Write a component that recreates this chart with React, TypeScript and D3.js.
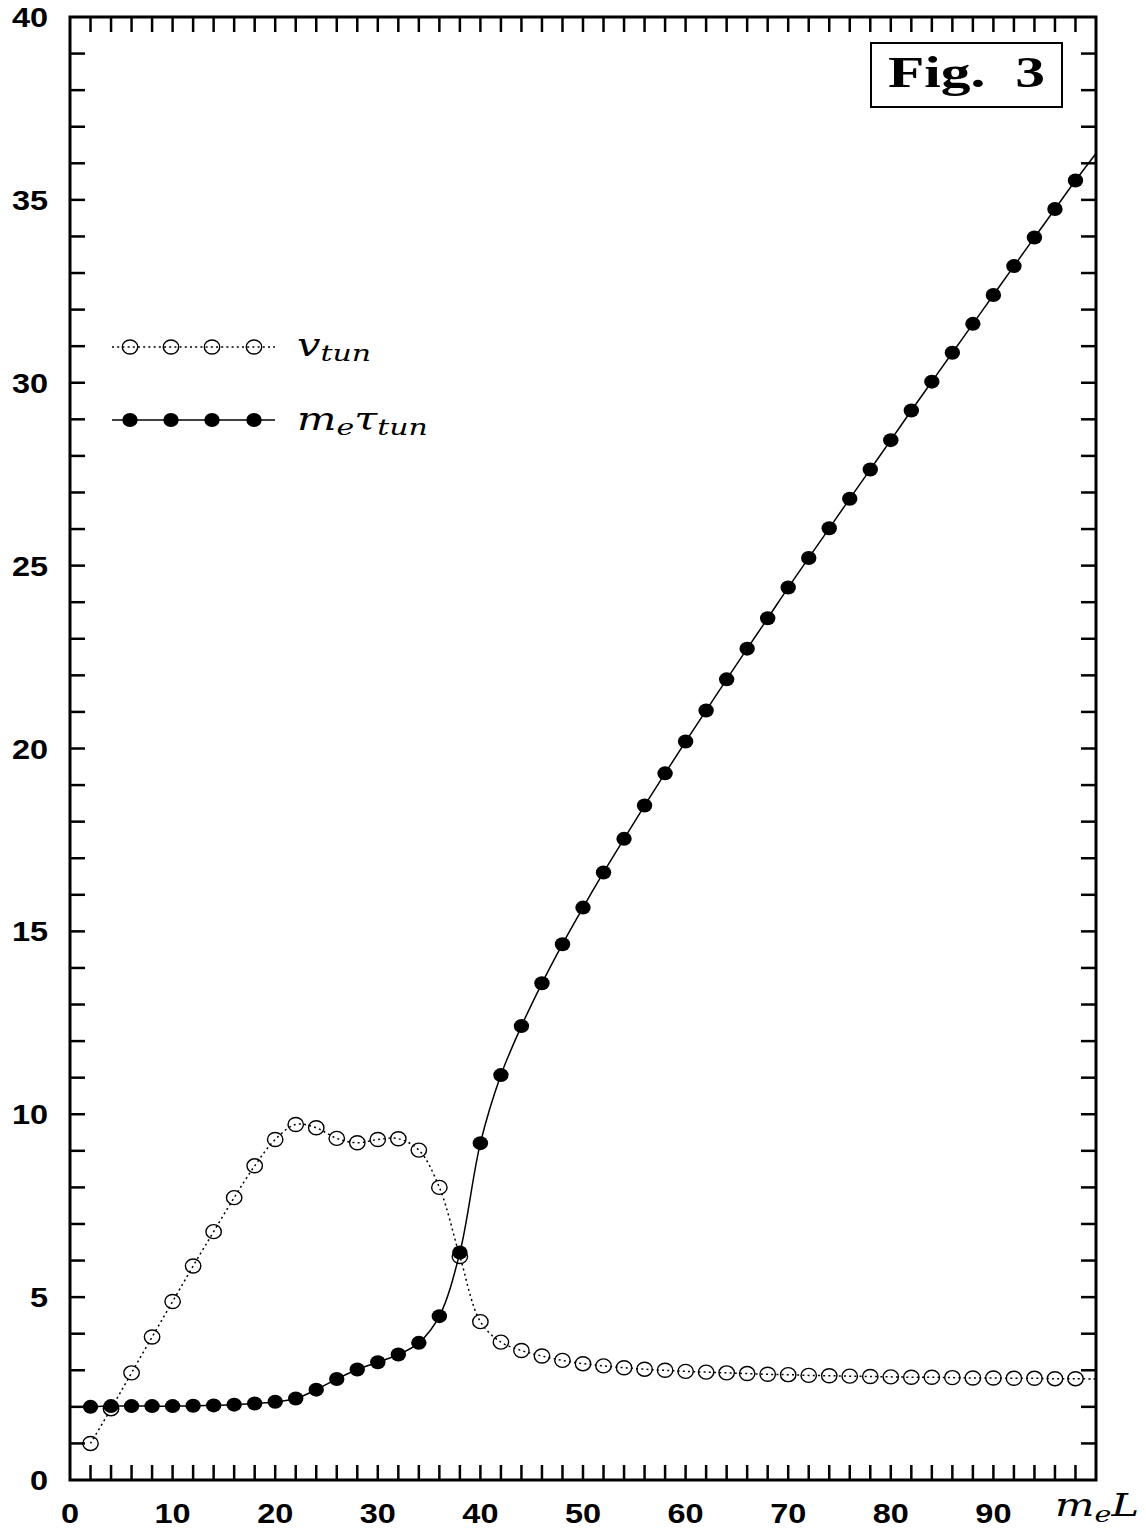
import * as d3 from "d3";

const W = 1146;
const H = 1532;

// m_e L values where markers are drawn
const xs = [
  2, 4, 6, 8, 10, 12, 14, 16, 18, 20, 22, 24, 26, 28, 30, 32, 34, 36, 38, 40,
  42, 44, 46, 48, 50, 52, 54, 56, 58, 60, 62, 64, 66, 68, 70, 72, 74, 76, 78,
  80, 82, 84, 86, 88, 90, 92, 94, 96, 98,
];

// v_tun (open circles, dotted line)
const vTun = [
  1.0, 1.95, 2.93, 3.91, 4.88, 5.85, 6.79, 7.72, 8.59, 9.31, 9.72, 9.63, 9.34,
  9.22, 9.31, 9.33, 9.02, 8.0, 6.11, 4.33, 3.77, 3.54, 3.39, 3.27, 3.18, 3.12,
  3.07, 3.03, 3.0, 2.97, 2.95, 2.93, 2.91, 2.89, 2.88, 2.86, 2.85, 2.84, 2.83,
  2.82, 2.81, 2.81, 2.8, 2.79, 2.79, 2.78, 2.78, 2.77, 2.77,
];

// m_e tau_tun (filled circles, solid line)
const tauTun = [
  2.0, 2.02, 2.02, 2.02, 2.02, 2.03, 2.04, 2.06, 2.09, 2.14, 2.23, 2.47, 2.76,
  3.02, 3.22, 3.43, 3.75, 4.48, 6.22, 9.21, 11.07, 12.41, 13.58, 14.65, 15.65,
  16.61, 17.53, 18.44, 19.32, 20.19, 21.04, 21.89, 22.73, 23.56, 24.4, 25.21,
  26.02, 26.83, 27.63, 28.43, 29.24, 30.03, 30.82, 31.61, 32.4, 33.19, 33.97,
  34.75, 35.53,
];

// curves continue to the frame edge without a marker
const endX = 100;
const vTunEnd = 2.76;
const tauTunEnd = 36.27;

const xTickLabels = [0, 10, 20, 30, 40, 50, 60, 70, 80, 90];
const yTickLabels = [0, 5, 10, 15, 20, 25, 30, 35, 40];

const left = 70;
const right = 1096;
const top = 17;
const bottom = 1480;
const sx = 1.16; // the figure is stretched horizontally

export default function App() {
  const x = d3.scaleLinear().domain([0, 100]).range([left, right]);
  const y = d3.scaleLinear().domain([0, 40]).range([bottom, top]);

  const line = d3
    .line<[number, number]>()
    .x((d) => x(d[0]))
    .y((d) => y(d[1]))
    .curve(d3.curveCatmullRom.alpha(0.5));

  const vPts: [number, number][] = xs.map((v, i) => [v, vTun[i]]);
  const tPts: [number, number][] = xs.map((v, i) => [v, tauTun[i]]);
  vPts.push([endX, vTunEnd]);
  tPts.push([endX, tauTunEnd]);

  const xMinor = d3.range(2, 100, 2);
  const yMinor = d3.range(1, 40, 1);
  const tl = 15;

  const font = "'Liberation Sans', Arial, Helvetica, sans-serif";
  const math = "'DejaVu Serif', 'Liberation Serif', serif";
  const serif = "'Liberation Serif', 'DejaVu Serif', serif";

  const legendXs = [130, 171, 212, 254];
  const dots = "2 3.2";

  return (
    <svg
      width={W}
      height={H}
      style={{ position: "absolute", left: 0, top: 0, background: "#fff" }}
    >
      {/* ticks */}
      <g stroke="#000" strokeWidth={2.5}>
        {xMinor.map((t) => (
          <g key={"x" + t}>
            <line x1={x(t)} x2={x(t)} y1={bottom} y2={bottom - tl} />
            <line x1={x(t)} x2={x(t)} y1={top} y2={top + tl} />
          </g>
        ))}
        {yMinor.map((t) => (
          <g key={"y" + t}>
            <line x1={left} x2={left + tl} y1={y(t)} y2={y(t)} />
            <line x1={right} x2={right - tl} y1={y(t)} y2={y(t)} />
          </g>
        ))}
      </g>

      {/* curves */}
      <path
        d={line(vPts) ?? ""}
        fill="none"
        stroke="#000"
        strokeWidth={1.5}
        strokeDasharray={dots}
      />
      <path d={line(tPts) ?? ""} fill="none" stroke="#000" strokeWidth={1.5} />

      {xs.map((v, i) => (
        <ellipse
          key={"o" + v}
          cx={x(v)}
          cy={y(vTun[i])}
          rx={7.7}
          ry={7}
          fill="none"
          stroke="#000"
          strokeWidth={1.4}
        />
      ))}
      {xs.map((v, i) => (
        <ellipse
          key={"f" + v}
          cx={x(v)}
          cy={y(tauTun[i])}
          rx={7.7}
          ry={7}
          fill="#000"
        />
      ))}

      {/* frame */}
      <rect
        x={left}
        y={top}
        width={right - left}
        height={bottom - top}
        fill="none"
        stroke="#000"
        strokeWidth={3}
      />

      {/* tick labels */}
      <g fontFamily={font} fontSize={28} fontWeight="bold" fill="#000">
        {xTickLabels.map((t) => (
          <text
            key={"xl" + t}
            transform={`translate(${x(t)},${1523}) scale(${sx},1)`}
            textAnchor="middle"
          >
            {t}
          </text>
        ))}
        {yTickLabels.map((t) => (
          <text
            key={"yl" + t}
            transform={`translate(48,${y(t) + 10}) scale(${sx},1)`}
            textAnchor="end"
          >
            {t}
          </text>
        ))}
      </g>

      {/* axis title */}
      <g
        fontFamily={math}
        fontStyle="italic"
        fill="#000"
        transform={`translate(1055,1516) scale(1.3,1)`}
      >
        <text fontSize={32}>
          m
          <tspan fontSize={22} dy={6}>
            e
          </tspan>
          <tspan fontSize={32} dy={-6}>
            L
          </tspan>
        </text>
      </g>

      {/* legend */}
      <line
        x1={112}
        x2={275}
        y1={347}
        y2={347}
        stroke="#000"
        strokeWidth={1.4}
        strokeDasharray={dots}
      />
      {legendXs.map((lx) => (
        <ellipse
          key={"lo" + lx}
          cx={lx}
          cy={347}
          rx={7.7}
          ry={7}
          fill="none"
          stroke="#000"
          strokeWidth={1.4}
        />
      ))}
      <line x1={112} x2={275} y1={420} y2={420} stroke="#000" strokeWidth={1.5} />
      {legendXs.map((lx) => (
        <ellipse key={"lf" + lx} cx={lx} cy={420} rx={7.7} ry={7} fill="#000" />
      ))}
      <g fontFamily={math} fontStyle="italic" fill="#000">
        <text transform={`translate(297,356) scale(1.3,1)`} fontSize={32}>
          v
          <tspan fontSize={23} dy={5}>
            tun
          </tspan>
        </text>
        <text transform={`translate(297,430) scale(1.3,1)`} fontSize={32}>
          m
          <tspan fontSize={23} dy={5}>
            e
          </tspan>
          <tspan fontSize={32} dy={-5}>
            τ
          </tspan>
          <tspan fontSize={23} dy={5}>
            tun
          </tspan>
        </text>
      </g>

      {/* Fig. 3 box */}
      <rect
        x={871}
        y={43}
        width={191}
        height={64}
        fill="#fff"
        stroke="#000"
        strokeWidth={2}
      />
      <text
        x={888}
        y={87}
        fontFamily={serif}
        fontWeight="bold"
        fontSize={45}
        textLength={157}
        lengthAdjust="spacingAndGlyphs"
        fill="#000"
        style={{ whiteSpace: "pre" }}
      >
        {"Fig.  3"}
      </text>
    </svg>
  );
}
